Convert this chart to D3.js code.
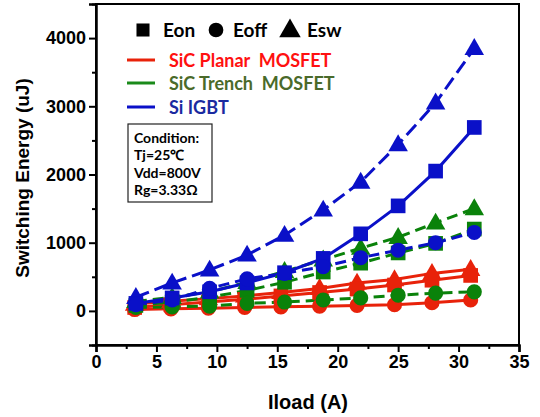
<!DOCTYPE html>
<html><head><meta charset="utf-8">
<script src="https://cdn.jsdelivr.net/npm/d3@7"></script>
<style>body{margin:0;background:#fff}svg{display:block}</style>
</head><body>
<svg id="c" width="540" height="417"></svg>
<script>
// ---- data ----
const currentSiC = [3.2, 6.2, 9.3, 12.3, 15.3, 18.5, 21.6, 24.7, 27.8, 31.0];
const currentOther = [3.3, 6.3, 9.4, 12.5, 15.6, 18.8, 21.9, 25.0, 28.1, 31.3];
const planarEon  = [50, 90, 130, 170, 220, 270, 320, 380, 450, 520];
const planarEoff = [20, 30, 40, 50, 60, 70, 80, 90, 120, 160];
const planarEsw  = [100, 140, 180, 220, 270, 330, 410, 460, 550, 610];
const trenchEon  = [80, 130, 200, 300, 420, 570, 700, 850, 990, 1200];
const trenchEoff = [50, 60, 70, 110, 130, 160, 190, 230, 260, 280];
const trenchEsw  = [140, 200, 280, 420, 580, 750, 920, 1080, 1290, 1500];
const igbtEon    = [110, 190, 280, 410, 560, 770, 1130, 1540, 2050, 2690];
const igbtEoff   = [90, 160, 330, 470, 550, 650, 780, 890, 1000, 1150];
const igbtEsw    = [200, 410, 600, 820, 1110, 1480, 1890, 2440, 3050, 3850];
const xTicks = [0, 5, 10, 15, 20, 25, 30, 35];
const yTicks = [0, 1000, 2000, 3000, 4000];
const energyLabels = ["Eon", "Eoff", "Esw"];
const deviceLabels = ["SiC Planar  MOSFET", "SiC Trench  MOSFET", "Si IGBT"];
const conditionLines = ["Condition:", "Tj=25\u2103", "Vdd=800V", "Rg=3.33\u03A9"];

const colors = {planar: "#e8220a", trench: "#0a820a", igbt: "#0a10c8"};
const textColors = ["#ff1010", "#4a6a2a", "#1a2aa0"];
const lineColors = ["#e8220a", "#1a8a1a", "#0a10c8"];

const svg = d3.select("#c");
const x = d3.scaleLinear().domain([0, 35]).range([96, 519]);
const y = d3.scaleLinear().domain([-500, 4500]).range([345, 4]);
const axisFont = "'Liberation Sans', Arial, sans-serif";
const legFont = "Lato, 'Open Sans', sans-serif";

// frame
svg.append("rect").attr("x", x(0)).attr("y", y(4500)).attr("width", x(35) - x(0)).attr("height", y(-500) - y(4500))
  .attr("fill", "none").attr("stroke", "#000").attr("stroke-width", 2);

// axes
const xAxis = d3.axisBottom(x).tickValues(xTicks).tickSize(7).tickPadding(3).tickFormat(d3.format("d"));
const gx = svg.append("g").attr("transform", `translate(0,${y(-500)})`).call(xAxis);
const xMinor = d3.axisBottom(x).tickValues(d3.range(2.5, 35, 5)).tickSize(4).tickFormat("");
svg.append("g").attr("transform", `translate(0,${y(-500)})`).call(xMinor).select(".domain").remove();
const yAxis = d3.axisLeft(y).tickValues(yTicks).tickSize(7).tickPadding(3).tickFormat(d3.format("d"));
const gy = svg.append("g").attr("transform", `translate(${x(0)},0)`).call(yAxis);
const yMinor = d3.axisLeft(y).tickValues([-500, 500, 1500, 2500, 3500, 4500]).tickSize(4).tickFormat("");
svg.append("g").attr("transform", `translate(${x(0)},0)`).call(yMinor).select(".domain").remove();
svg.selectAll(".domain").attr("stroke-width", 2.5);
svg.selectAll(".tick line").attr("stroke-width", 2);
svg.selectAll(".tick text").attr("font-family", axisFont).attr("font-weight", "bold").attr("font-size", 18).attr("fill", "#000");

svg.append("text").attr("x", 308).attr("y", 409).attr("text-anchor", "middle")
  .attr("font-family", axisFont).attr("font-weight", "bold").attr("font-size", 20).text("Iload (A)");
svg.append("text").attr("transform", "translate(29,178) rotate(-90)").attr("text-anchor", "middle")
  .attr("font-family", axisFont).attr("font-weight", "bold").attr("font-size", 19).text("Switching Energy (uJ)");

// series
const series = [
  {xs: currentSiC, ys: planarEsw, c: colors.planar, m: "tri", dash: null},
  {xs: currentSiC, ys: planarEon, c: colors.planar, m: "sq", dash: null},
  {xs: currentSiC, ys: planarEoff, c: colors.planar, m: "ci", dash: null},
  {xs: currentOther, ys: trenchEsw, c: colors.trench, m: "tri", dash: "11,6"},
  {xs: currentOther, ys: trenchEon, c: colors.trench, m: "sq", dash: "11,6"},
  {xs: currentOther, ys: trenchEoff, c: colors.trench, m: "ci", dash: "11,6"},
  {xs: currentOther, ys: igbtEsw, c: colors.igbt, m: "tri", dash: "14,6"},
  {xs: currentOther, ys: igbtEon, c: colors.igbt, m: "sq", dash: null},
  {xs: currentOther, ys: igbtEoff, c: colors.igbt, m: "ci", dash: "11,6"},
];
const symType = {tri: d3.symbolTriangle, sq: d3.symbolSquare, ci: d3.symbolCircle};
const symSize = {tri: 165, sq: 215, ci: 180};
const line = d3.line().x(d => x(d[0])).y(d => y(d[1]));
const gData = svg.append("g");
series.forEach(s => {
  const pts = s.xs.map((v, i) => [v, s.ys[i]]);
  gData.append("path").attr("d", line(pts)).attr("fill", "none").attr("stroke", s.c)
    .attr("stroke-width", 3).attr("stroke-dasharray", s.dash);
});
series.forEach(s => {
  const pts = s.xs.map((v, i) => [v, s.ys[i]]);
  gData.selectAll(null).data(pts).enter().append("path")
    .attr("transform", d => `translate(${x(d[0])},${y(d[1]) + (s.m === "tri" ? 1 : 0)})`)
    .attr("d", d3.symbol().type(symType[s.m]).size(symSize[s.m]))
    .attr("fill", s.c);
});

// legend: markers
const legSym = [d3.symbolSquare, d3.symbolCircle, d3.symbolTriangle];
const legSymX = [143, 216, 290];
const legTxtX = [163, 233, 307];
energyLabels.forEach((t, i) => {
  svg.append("path").attr("transform", `translate(${legSymX[i]},${i === 2 ? 31 : 30})`)
    .attr("d", d3.symbol().type(legSym[i]).size(i === 2 ? 200 : 170)).attr("fill", "#000");
  svg.append("text").attr("x", legTxtX[i]).attr("y", 37).attr("font-family", legFont)
    .attr("font-weight", "bold").attr("font-size", 19).attr("fill", "#000").text(t);
});
const legY = [60, 83, 107];
deviceLabels.forEach((t, i) => {
  svg.append("line").attr("x1", 127).attr("x2", 155).attr("y1", legY[i]).attr("y2", legY[i])
    .attr("stroke", lineColors[i]).attr("stroke-width", 3);
  svg.append("text").attr("x", 169).attr("y", legY[i] + 6.5).attr("font-family", legFont)
    .attr("font-weight", "bold").attr("font-size", 18).attr("fill", textColors[i])
    .attr("xml:space", "preserve").style("white-space", "pre").text(t);
});

// condition box
svg.append("rect").attr("x", 128).attr("y", 124).attr("width", 84).attr("height", 78)
  .attr("fill", "#fff").attr("stroke", "#222").attr("stroke-width", 1.2);
conditionLines.forEach((t, i) => {
  svg.append("text").attr("x", 134).attr("y", 143 + i * 17.3).attr("font-family", legFont)
    .attr("font-weight", "bold").attr("font-size", 14).attr("fill", "#000").text(t);
});
</script>
</body></html>
